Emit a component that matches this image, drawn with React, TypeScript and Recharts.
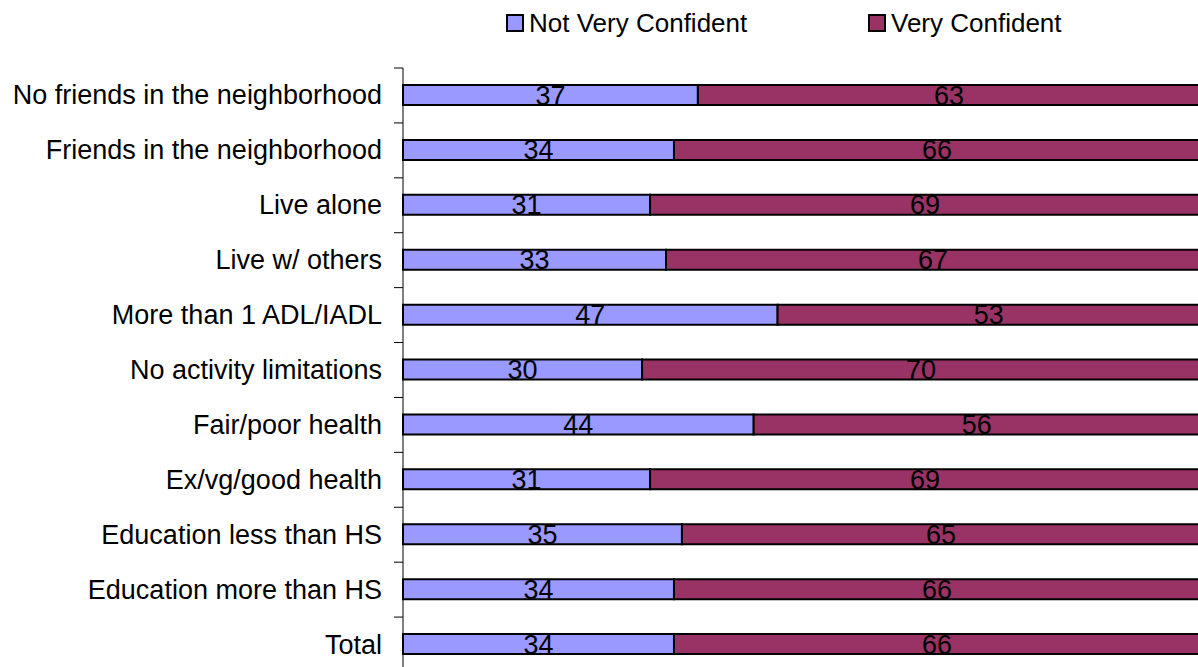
import React from "react";
import { BarChart, Bar, XAxis, YAxis, Legend, LabelList } from "recharts";

const categories = [
  "No friends in the neighborhood",
  "Friends in the neighborhood",
  "Live alone",
  "Live w/ others",
  "More than 1 ADL/IADL",
  "No activity limitations",
  "Fair/poor health",
  "Ex/vg/good health",
  "Education less than HS",
  "Education more than HS",
  "Total",
];
const notVeryConfident = [37, 34, 31, 33, 47, 30, 44, 31, 35, 34, 34];
const veryConfident = [63, 66, 69, 67, 53, 70, 56, 69, 65, 66, 66];
const seriesNames = ["Not Very Confident", "Very Confident"];
const seriesColors = ["#9999FF", "#993366"];

const data = categories.map((name, i) => ({
  name,
  notVery: notVeryConfident[i],
  very: veryConfident[i],
}));

const CHART_W = 1200;
const CHART_H = 690;
const LEGEND_H = 26;
const MARGIN = { top: 68 - LEGEND_H, right: 0, bottom: 18, left: 0 };
const PLOT_H = CHART_H - 68 - MARGIN.bottom;
const HALF_BAND = PLOT_H / categories.length / 2;
const FONT = "'Liberation Sans', Arial, sans-serif";

const CategoryTick = (props: any) => {
  const { x, y, payload } = props;
  return (
    <g>
      <text
        x={x}
        y={y}
        textAnchor="end"
        dominantBaseline="central"
        fontSize={27}
        fontFamily={FONT}
        fill="#000"
      >
        {payload.value}
      </text>
      <line x1={x + 12} x2={x + 21} y1={y - HALF_BAND} y2={y - HALF_BAND} stroke="#000" strokeWidth={1} />
    </g>
  );
};

const LegendContent = () => (
  <div style={{ position: "relative", height: LEGEND_H, fontFamily: FONT, fontSize: 26, color: "#000" }}>
    {seriesNames.map((n, i) => (
      <div
        key={n}
        style={{
          position: "absolute",
          left: i * 362,
          top: 0,
          display: "flex",
          alignItems: "center",
          height: LEGEND_H,
          whiteSpace: "nowrap",
        }}
      >
        <span
          style={{
            display: "inline-block",
            width: 14,
            height: 14,
            background: seriesColors[i],
            border: "2px solid #000",
            marginRight: 5,
          }}
        />
        <span style={{ lineHeight: LEGEND_H + "px" }}>{n}</span>
      </div>
    ))}
  </div>
);

export default function App() {
  return (
    <div style={{ position: "absolute", left: 0, top: 0 }}>
      <style>{`body{margin:0;overflow:hidden;background:#fff}`}</style>
      <BarChart width={CHART_W} height={CHART_H} data={data} layout="vertical" margin={MARGIN}>
        <XAxis type="number" domain={[0, 100]} hide />
        <YAxis
          type="category"
          dataKey="name"
          width={403}
          interval={0}
          tickSize={9}
          tickMargin={12}
          tickLine={false}
          axisLine={{ stroke: "#000", strokeWidth: 1 }}
          tick={<CategoryTick />}
        />
        <Legend
          verticalAlign="top"
          wrapperStyle={{ top: 10, left: 506, width: 700, height: LEGEND_H }}
          content={<LegendContent />}
        />
        <Bar dataKey="notVery" name={seriesNames[0]} stackId="a" fill={seriesColors[0]} stroke="#000" strokeWidth={2} barSize={20} isAnimationActive={false}>
          <LabelList dataKey="notVery" position="center" fill="#000" fontSize={27} fontFamily={FONT} />
        </Bar>
        <Bar dataKey="very" name={seriesNames[1]} stackId="a" fill={seriesColors[1]} stroke="#000" strokeWidth={2} barSize={20} isAnimationActive={false}>
          <LabelList dataKey="very" position="center" fill="#000" fontSize={27} fontFamily={FONT} />
        </Bar>
      </BarChart>
    </div>
  );
}
